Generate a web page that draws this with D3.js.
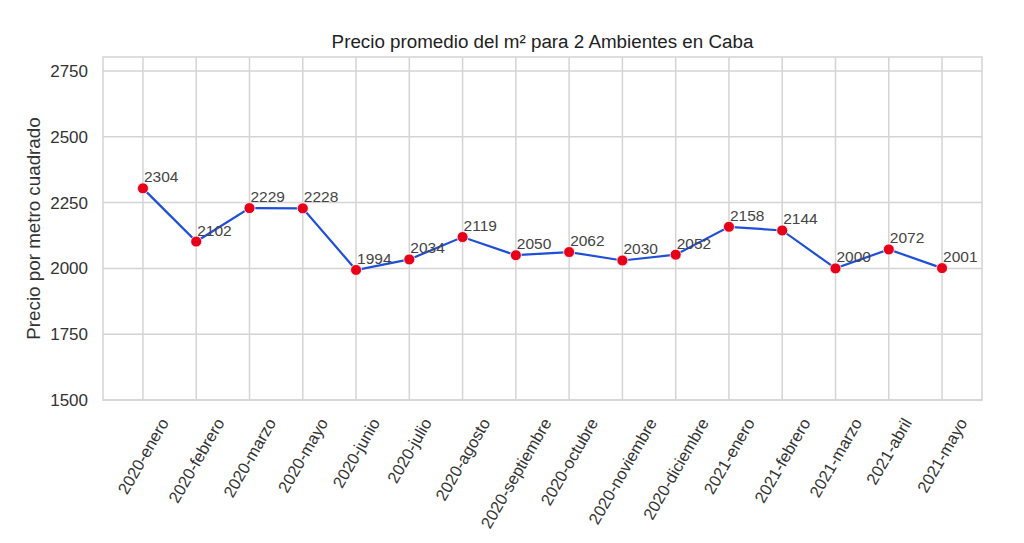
<!DOCTYPE html>
<html>
<head>
<meta charset="utf-8">
<script src="https://cdn.jsdelivr.net/npm/d3@7"></script>
<style>
  body { margin: 0; background: #fff; }
  text { font-family: "Liberation Sans", Arial, sans-serif; }
</style>
</head>
<body>
<div id="wrapper"></div>
<script>
// data
const meses = ['2020-enero', '2020-febrero', '2020-marzo', '2020-mayo', '2020-junio', '2020-julio',
  '2020-agosto', '2020-septiembre', '2020-octubre', '2020-noviembre', '2020-diciembre',
  '2021-enero', '2021-febrero', '2021-marzo', '2021-abril', '2021-mayo'];
const precios = [2304, 2102, 2229, 2228, 1994, 2034, 2119, 2050, 2062, 2030, 2052, 2158, 2144, 2000, 2072, 2001];
const yTicks = [1500, 1750, 2000, 2250, 2500, 2750];

const width = 1024, height = 543;
const margin = { top: 57, right: 42, bottom: 143, left: 103 };

const svg = d3.select('#wrapper').append('svg').attr('width', width).attr('height', height);

const x = d3.scalePoint().domain(meses).range([margin.left, width - margin.right]).padding(0.75);
const y = d3.scaleLinear().domain([1500, 2803]).range([height - margin.bottom, margin.top]);

const gridColor = '#d4d4d4';
const textColor = '#333';

// grid
svg.append('g')
  .selectAll('line.v')
  .data(meses)
  .enter()
  .append('line')
  .attr('x1', (d) => x(d)).attr('x2', (d) => x(d))
  .attr('y1', margin.top).attr('y2', height - margin.bottom)
  .attr('stroke', gridColor).attr('stroke-width', 1.5);

svg.append('g')
  .selectAll('line.h')
  .data(yTicks)
  .enter()
  .append('line')
  .attr('x1', margin.left).attr('x2', width - margin.right)
  .attr('y1', (d) => y(d)).attr('y2', (d) => y(d))
  .attr('stroke', gridColor).attr('stroke-width', 1.5);

// frame
svg.append('rect')
  .attr('x', margin.left).attr('y', margin.top)
  .attr('width', width - margin.left - margin.right)
  .attr('height', height - margin.top - margin.bottom)
  .attr('fill', 'none').attr('stroke', gridColor).attr('stroke-width', 1.5);

// y tick labels
svg.append('g')
  .selectAll('text')
  .data(yTicks)
  .enter()
  .append('text')
  .attr('x', margin.left - 15)
  .attr('y', (d) => y(d))
  .attr('dy', '0.35em')
  .attr('text-anchor', 'end')
  .attr('font-size', 17)
  .attr('fill', textColor)
  .text((d) => d);

// x tick labels, rotated, bbox centered on tick like matplotlib
const xt = svg.append('g');
meses.forEach((m) => {
  const g = xt.append('g');
  g.append('text')
    .attr('text-anchor', 'end')
    .attr('font-size', 16.5)
    .attr('fill', textColor)
    .attr('transform', 'rotate(-60)')
    .text(m);
  const b = g.node().getBBox();
  const cx = b.x + b.width / 2;
  g.attr('transform', `translate(${x(m) - cx},${height - margin.bottom + 15 - b.y})`);
});

// title
svg.append('text')
  .attr('x', (margin.left + width - margin.right) / 2)
  .attr('y', 48)
  .attr('text-anchor', 'middle')
  .attr('font-size', 18.8)
  .attr('fill', '#222')
  .text('Precio promedio del m² para 2 Ambientes en Caba');

// y axis label
svg.append('text')
  .attr('transform', `translate(40,${(margin.top + height - margin.bottom) / 2}) rotate(-90)`)
  .attr('text-anchor', 'middle')
  .attr('font-size', 18.8)
  .attr('fill', textColor)
  .text('Precio por metro cuadrado');

// line
const line = d3.line().x((d, i) => x(meses[i])).y((d) => y(d));
svg.append('path')
  .datum(precios)
  .attr('d', line)
  .attr('fill', 'none')
  .attr('stroke', '#1f4ed8')
  .attr('stroke-width', 2.2);

// markers
svg.append('g')
  .selectAll('circle')
  .data(precios)
  .enter()
  .append('circle')
  .attr('cx', (d, i) => x(meses[i]))
  .attr('cy', (d) => y(d))
  .attr('r', 5.5)
  .attr('fill', '#e6001a')
  .attr('stroke', '#fff')
  .attr('stroke-width', 0.8);

// value labels
svg.append('g')
  .selectAll('text')
  .data(precios)
  .enter()
  .append('text')
  .attr('x', (d, i) => x(meses[i]) + 1)
  .attr('y', (d) => y(d) - 6)
  .attr('font-size', 15.5)
  .attr('fill', '#444')
  .text((d) => d);
</script>
</body>
</html>
